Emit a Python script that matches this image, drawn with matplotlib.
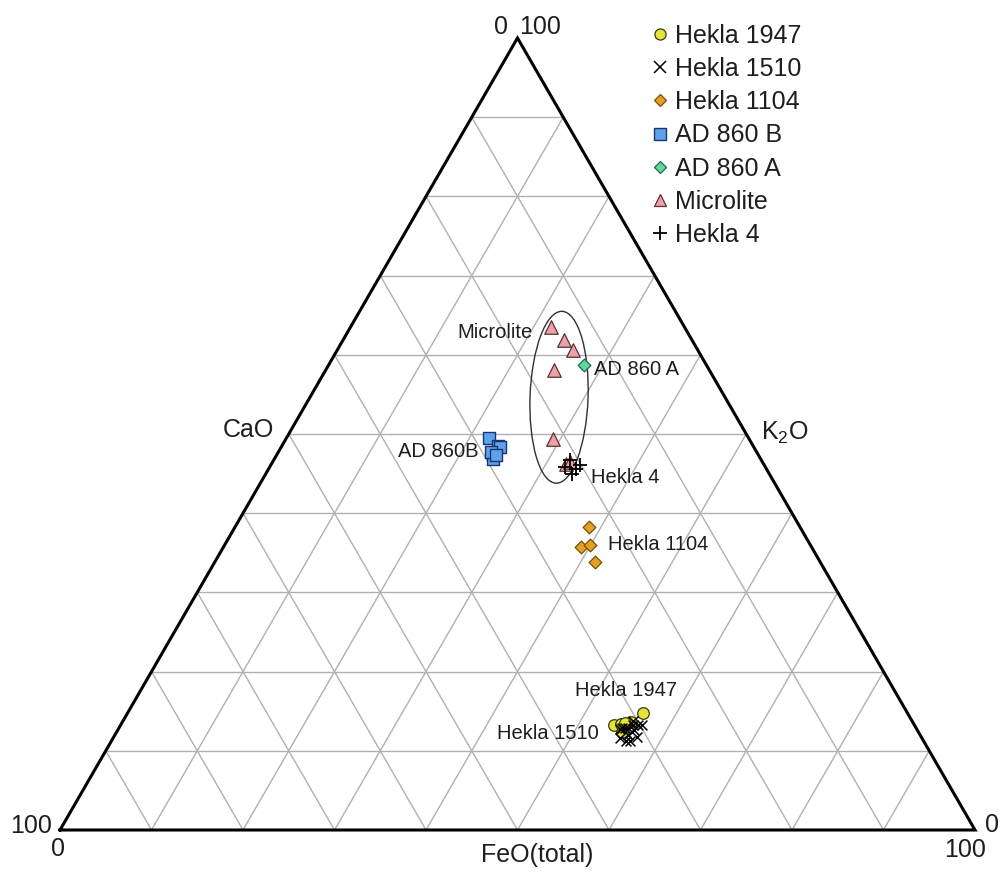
import numpy as np
import matplotlib
matplotlib.use("Agg")
import matplotlib.pyplot as plt
from matplotlib.patches import Ellipse
from matplotlib.lines import Line2D

plt.rcParams['font.family'] = ['Liberation Sans', 'DejaVu Sans']
plt.rcParams['mathtext.fontset'] = 'custom'
plt.rcParams['mathtext.rm'] = 'Liberation Sans'
plt.rcParams['mathtext.it'] = 'Liberation Sans:italic'

# compositions (CaO, FeO, K2O) in %
series_names = ["Hekla 1947", "Hekla 1510", "Hekla 1104", "AD 860 B", "AD 860 A", "Microlite", "Hekla 4"]

hekla1947_cao = [28.9, 32.8, 32.4, 30.8, 32.0, 31.5]
hekla1947_feo = [56.3, 53.9, 55.2, 55.6, 54.6, 55.0]
hekla1947_k2o = [14.8, 13.3, 12.4, 13.6, 13.4, 13.5]

hekla1510_cao = [32.1, 31.9, 31.0, 31.0, 32.5, 32.5, 30.5, 29.8, 33.0, 32.1, 31.5, 30.8, 31.8, 30.2]
hekla1510_feo = [55.0, 56.1, 56.4, 57.2, 56.2, 54.8, 55.8, 57.0, 55.4, 56.7, 55.6, 56.0, 55.3, 56.6]
hekla1510_k2o = [12.9, 12.0, 12.6, 11.8, 11.3, 12.7, 13.7, 13.2, 11.6, 11.2, 12.9, 13.2, 12.9, 13.2]

hekla1104_cao = [23.1, 25.2, 24.1, 24.6]
hekla1104_feo = [38.7, 39.1, 39.9, 41.6]
hekla1104_k2o = [38.3, 35.7, 36.0, 33.8]

ad860b_cao = [28.4, 27.9, 29.3, 27.7, 29.0, 28.7]
ad860b_feo = [22.1, 23.6, 23.9, 23.9, 23.2, 24.0]
ad860b_k2o = [49.5, 48.5, 46.8, 48.4, 47.7, 47.3]

ad860a_cao = [13.4]
ad860a_feo = [27.9]
ad860a_k2o = [58.7]

microlite_cao = [14.6, 14.0, 13.6, 17.0, 21.4, 21.6, 21.0]
microlite_feo = [21.9, 24.1, 25.8, 25.0, 29.2, 32.2, 32.5]
microlite_k2o = [63.5, 61.9, 60.6, 58.1, 49.4, 46.2, 46.5]

hekla4_cao = [20.9, 20.8, 21.6, 21.9, 20.1]
hekla4_feo = [32.4, 33.6, 33.5, 32.3, 33.8]
hekla4_k2o = [46.7, 45.6, 44.9, 45.8, 46.1]

H = np.sqrt(3) / 2


def tern(cao, feo, k2o):
    cao = np.asarray(cao, float); feo = np.asarray(feo, float); k2o = np.asarray(k2o, float)
    s = cao + feo + k2o
    f = feo / s; k = k2o / s
    return f + k / 2, k * H


W, HH = 1000, 872
fig = plt.figure(figsize=(W / 100, HH / 100), dpi=100)
ax = fig.add_axes([60 / W, (HH - 830) / HH, 915 / W, 792 / HH])
ax.set_xlim(0, 1)
ax.set_ylim(0, H)
ax.axis('off')

# grid
gcol = '#b0b0b0'
for i in range(1, 10):
    t = i / 10
    ax.plot([t / 2, 1 - t / 2], [t * H, t * H], color=gcol, lw=1.0, zorder=1)
    ax.plot([t, t + (1 - t) / 2], [0, (1 - t) * H], color=gcol, lw=1.0, zorder=1)
    ax.plot([1 - t, (1 - t) / 2], [0, (1 - t) * H], color=gcol, lw=1.0, zorder=1)

ax.plot([0, 1, 0.5, 0], [0, 0, H, 0], color='black', lw=2.2, zorder=2, clip_on=False,
        solid_joinstyle='miter')

styles = [
    dict(marker='o', s=70, c='#e6e43a', edgecolors='#3a3a10', linewidths=0.9),
    dict(marker='x', s=50, c='black', linewidths=1.1),
    dict(marker='D', s=42, c='#e2a024', edgecolors='#7a5000', linewidths=0.9),
    dict(marker='s', s=70, c='#5ea2ea', edgecolors='#1a3470', linewidths=1.0),
    dict(marker='D', s=42, c='#5cd8a0', edgecolors='#1e6a48', linewidths=0.9),
    dict(marker='^', s=95, c='#eaa2a8', edgecolors='#603030', linewidths=0.9),
    dict(marker='+', s=110, c='black', linewidths=1.3),
]
data = [
    (hekla1947_cao, hekla1947_feo, hekla1947_k2o),
    (hekla1510_cao, hekla1510_feo, hekla1510_k2o),
    (hekla1104_cao, hekla1104_feo, hekla1104_k2o),
    (ad860b_cao, ad860b_feo, ad860b_k2o),
    (ad860a_cao, ad860a_feo, ad860a_k2o),
    (microlite_cao, microlite_feo, microlite_k2o),
    (hekla4_cao, hekla4_feo, hekla4_k2o),
]
order = [0, 1, 2, 3, 5, 4, 6]
zs = {0: 4, 1: 5, 2: 4, 3: 4, 4: 5, 5: 4, 6: 6}
for i in order:
    x, y = tern(*data[i])
    ax.scatter(x, y, zorder=zs[i], clip_on=False, **styles[i])

# ellipse around microlite group
ax.add_patch(Ellipse((0.5454, 0.4732), 0.188, 0.0634, angle=88, fill=False,
                     edgecolor='#303030', lw=1.0, zorder=3))


def fxy(px, py):
    return px / W, 1 - py / HH


def ftext(px, py, s, size, va='center', **kw):
    fig.text(*fxy(px, py), s, fontsize=size, ha='center', va=va, color='#1e1e1e', **kw)


# annotations
ann = 14.5
ftext(495, 333, "Microlite", ann)
ftext(637, 369, "AD 860 A", ann)
ftext(438, 451, "AD 860B", ann)
ftext(625, 477, "Hekla 4", ann)
ftext(658, 545, "Hekla 1104", ann)
ftext(626, 690, "Hekla 1947", ann)
ftext(548, 733, "Hekla 1510", ann)

# corner ticks and axis labels
cs = 18
ftext(31, 826, "100", cs)
ftext(58, 849, "0", cs)
ftext(501, 27, "0", cs)
ftext(540, 27, "100", cs)
ftext(992, 825, "0", cs)
ftext(965, 850, "100", cs)
ftext(248, 430, "CaO", 18)
ftext(785, 440, "K$_2$O", 18, va='baseline')
ftext(537, 855, "FeO(total)", 18)

# legend
handles = []
for i, name in enumerate(series_names):
    st = styles[i]
    ms = {'o': 8, 'x': 8, 'D': 6.5, 's': 8, '^': 9, '+': 10}[st['marker']]
    handles.append(Line2D([], [], linestyle='none', marker=st['marker'], markersize=ms,
                          markerfacecolor=st['c'], markeredgecolor=st.get('edgecolors', st['c']),
                          markeredgewidth=st['linewidths'], label=name))
leg = fig.legend(handles=handles, loc='upper left', bbox_to_anchor=(0.6525, 0.973),
                 frameon=False, fontsize=18, handlelength=0.6, handletextpad=0.3,
                 labelspacing=0.37, borderpad=0, borderaxespad=0)
for t in leg.get_texts():
    t.set_color('#1e1e1e')

fig.savefig('out.png', dpi=100)
